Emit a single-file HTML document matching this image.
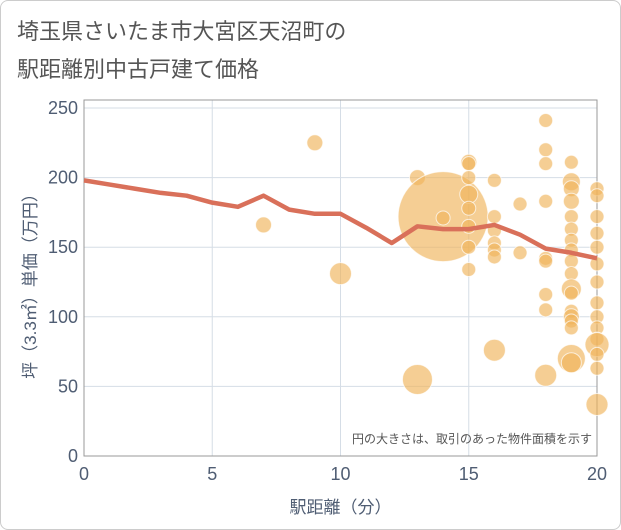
<!DOCTYPE html>
<html><head><meta charset="utf-8"><style>
body{margin:0;background:#fff;font-family:"Liberation Sans","Noto Sans CJK JP",sans-serif}
#wrap{position:relative;width:619px;height:528px;border:1px solid #ccc;border-radius:8px;overflow:hidden}
.t{position:absolute;left:16px;font-size:22px;color:#555}
</style></head><body>
<div id="wrap">
<div class="t" style="top:13px">埼玉県さいたま市大宮区天沼町の</div>
<div class="t" style="top:51px">駅距離別中古戸建て価格</div>
<svg id="svg" width="621" height="530" style="position:absolute;left:-1px;top:-1px"></svg>
</div>
<script>
const xTicks=[0,5,10,15,20];
const yTicks=[0,50,100,150,200,250];
const bubbleX=[7,9,10,13,13,14,14,15,15,15,15,15,15,15,15,16,16,16,16,16,16,16,17,17,18,18,18,18,18,18,18,18,18,19,19,19,19,19,19,19,19,19,19,19,19,19,19,19,19,19,19,20,20,20,20,20,20,20,20,20,20,20,20,20,20,20];
const bubbleY=[166,225,131,200,55,172,171,211,210,200,188,178,165,150,134,198,172,162,153,148,143,76,181,146,241,220,210,183,142,140,116,105,58,211,197,192,183,172,163,155,148,140,131,120,117,104,100,97,92,70,67,192,187,172,160,150,138,125,110,100,92,84,80,73,63,37];
const bubbleR=[8,8,11,8,15,45,7,8,7,7,9,7,7,7,7,7,7,7,7,7,7,11,7,7,7,7,7,7,7,7,7,7,11,7,9,8,8,7,7,7,7,7,7,10,7,7,8,7,7,14,10,7,7,7,7,7,7,7,7,7,7,7,12,7,7,11];
const lineX=[0,1,2,3,4,5,6,7,8,9,10,11,12,13,14,15,16,17,18,19,20];
const lineY=[198,195,192,189,187,182,179,187,177,174,174,164,153,165,163,163,166,159,149,146,142];
const L=84,R=597,T=108,B=456;
const sx=v=>L+(v-0)/20*(R-L), sy=v=>B-v/250*(B-T);
const svg=document.getElementById('svg'),NS='http://www.w3.org/2000/svg';
const TC='#4f5d73';
function mk(t,a,p){const e=document.createElementNS(NS,t);for(const k in a)e.setAttribute(k,a[k]);(p||svg).appendChild(e);return e;}
xTicks.forEach(v=>{const l=mk('line',{x1:sx(v),x2:sx(v),y1:T-8,y2:B,stroke:'#d5dde6'});

const t=mk('text',{x:sx(v),y:B+24,'text-anchor':'middle','font-size':18,fill:TC});t.textContent=v;
});
yTicks.forEach(v=>{const l=mk('line',{x1:L,x2:R,y1:sy(v),y2:sy(v),stroke:'#d5dde6'});

const t=mk('text',{x:L-6,y:sy(v)+6,'text-anchor':'end','font-size':18,fill:TC});t.textContent=v;
});
const fr=mk('rect',{x:L,y:T-8,width:R-L,height:B-T+8,fill:'none',stroke:'#999'});

bubbleX.forEach((x,i)=>{const c=mk('circle',{cx:sx(x),cy:sy(bubbleY[i]),r:bubbleR[i],fill:'rgba(240,180,90,0.65)',stroke:'rgba(255,255,255,0.7)'});
});
const p=mk('polyline',{points:lineX.map((x,i)=>sx(x)+','+sy(lineY[i])).join(' '),fill:'none',stroke:'#d9705a','stroke-width':4.5,'stroke-linejoin':'round'});

const n=mk('text',{x:592,y:443,'text-anchor':'end','font-size':12,fill:'#555'});n.textContent='円の大きさは、取引のあった物件面積を示す';

const xt=mk('text',{x:(L+R)/2,y:513,'text-anchor':'middle','font-size':17,fill:TC});xt.textContent='駅距離（分）';

const yt=mk('text',{x:0,y:0,'text-anchor':'middle','font-size':17,fill:TC,transform:'translate(36,'+((T+B)/2)+') rotate(-90)'});yt.textContent='坪（3.3㎡）単価（万円）';

</script>
</body></html>
